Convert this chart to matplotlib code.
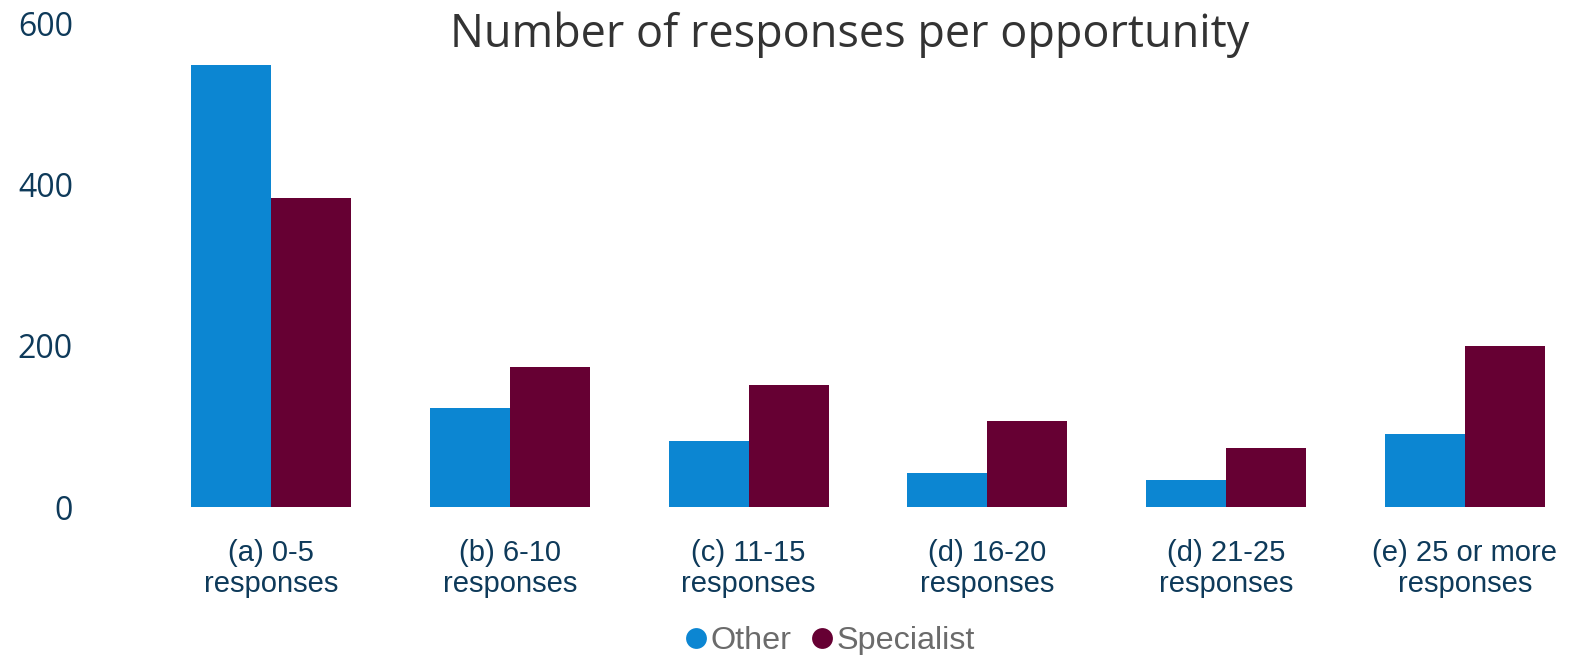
import matplotlib
matplotlib.use("Agg")
import matplotlib.pyplot as plt
from matplotlib.lines import Line2D
import numpy as np

categories = ["(a) 0-5\nresponses", "(b) 6-10\nresponses", "(c) 11-15\nresponses",
              "(d) 16-20\nresponses", "(d) 21-25\nresponses", "(e) 25 or more\nresponses"]
other = [548, 123, 82, 42, 33, 90]
specialist = [383, 174, 151, 107, 73, 200]
series_names = ["Other", "Specialist"]
colors = ["#0C86D2", "#660033"]
yticks = [0, 200, 400, 600]

W, H = 1570, 655
fig = plt.figure(figsize=(W / 100, H / 100), dpi=100)
ax_left = 151.6 / W
ax = fig.add_axes([ax_left, (H - 507) / H, 1 - ax_left, (507 - 23.3) / H])

x = np.arange(len(categories))
bw = 0.335
ax.bar(x - bw / 2, other, width=bw, color=colors[0], linewidth=0)
ax.bar(x + bw / 2, specialist, width=bw, color=colors[1], linewidth=0)

ax.set_xlim(-0.5, -0.5 + (W - 151.6) / 238.8)
ax.set_ylim(0, 600)
for s in ax.spines.values():
    s.set_visible(False)
ax.set_yticks(yticks)
ax.set_yticklabels([str(v) for v in yticks], fontsize=23, color="#0E3A5A",
                   fontfamily="Open Sans")
ax.tick_params(axis="y", length=0, pad=56.6)
ax.set_xticks(x)
ax.set_xticklabels(categories, fontsize=21, color="#0E3A5A",
                   fontfamily="Liberation Sans", linespacing=1.12)
ax.tick_params(axis="x", length=0, pad=23)

fig.text(849.5 / W, 1 - 35 / H, "Number of responses per opportunity",
         ha="center", va="center", fontsize=32.4, color="#333333",
         fontfamily="Open Sans")

handles = [Line2D([], [], marker="o", linestyle="none", markersize=15,
                  markerfacecolor=c, markeredgewidth=0) for c in colors]
fig.legend(handles, series_names, loc="center", bbox_to_anchor=(828 / W, 1 - 641 / H),
           ncol=2, frameon=False, labelcolor="#6B6B6B",
           prop={"family": "Liberation Sans", "size": 23.3},
           handletextpad=0.0, columnspacing=0.5, handlelength=0.9)

fig.savefig("out.png", dpi=100)
